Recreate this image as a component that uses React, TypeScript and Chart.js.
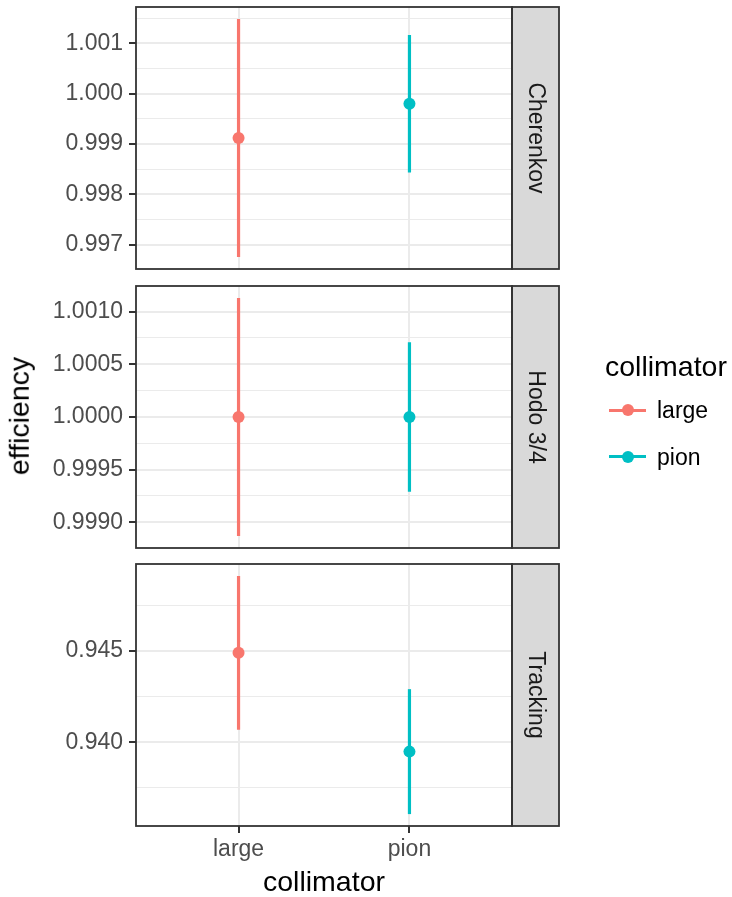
import React, { useEffect, useRef } from 'react';
import { Chart, registerables } from 'chart.js';

Chart.register(...registerables);

// ---- data ----
const categories = ['large', 'pion'];
const seriesColors = ['#F8766D', '#00BFC4'];
const facets = ['Cherenkov', 'Hodo 3/4', 'Tracking'];

const cherenkovEff = [0.99912, 0.9998];
const cherenkovErr = [0.002365, 0.001366];
const hodoEff = [1.0, 1.0];
const hodoErr = [0.00113, 0.00071];
const trackingEff = [0.9449, 0.93949];
const trackingErr = [0.00421, 0.00342];

const cherenkovTicks = ['0.997', '0.998', '0.999', '1.000', '1.001'];
const hodoTicks = ['0.9990', '0.9995', '1.0000', '1.0005', '1.0010'];
const trackingTicks = ['0.940', '0.945'];

const xTitle = 'collimator';
const yTitle = 'efficiency';
const legendTitle = 'collimator';

// ---- layout ----
const W = 732;
const H = 897;
const PLOT_LEFT = 136;
const PLOT_RIGHT = 512;
const STRIP_RIGHT = 559;
const X_AXIS_H = 50;
const panelBoxes = [
  { top: 7, bottom: 269 },
  { top: 286, bottom: 548 },
  { top: 564, bottom: 826 },
];
const FONT = '"Liberation Sans", Arial, Helvetica, sans-serif';
const tickFont = { family: FONT, size: 23 };

type PanelProps = {
  index: number;
  eff: number[];
  err: number[];
  tickLabels: string[];
  showX: boolean;
};

function Panel({ index, eff, err, tickLabels, showX }: PanelProps) {
  const ref = useRef<HTMLCanvasElement>(null);
  useEffect(() => {
    if (!ref.current) return;
    const box = panelBoxes[index];
    const lows = eff.map((v, i) => v - err[i]);
    const highs = eff.map((v, i) => v + err[i]);
    const lo = Math.min(...lows);
    const hi = Math.max(...highs);
    const pad = (hi - lo) * 0.05;
    const yMin = lo - pad;
    const yMax = hi + pad;
    const majors = tickLabels.map((t) => parseFloat(t));
    const step = majors[1] - majors[0];
    const minors: number[] = [];
    for (let k = -1; k < majors.length; k++) {
      const m = majors[0] + (k + 0.5) * step;
      if (m > yMin && m < yMax) minors.push(m);
    }
    const all = [
      ...majors.map((v, i) => ({ value: v, label: tickLabels[i], major: true })),
      ...minors.map((v) => ({ value: v, label: '', major: false })),
    ].sort((a, b) => a.value - b.value);

    const label = facets[index];
    const framePlugin = {
      id: 'panelFrame' + index,
      afterDraw(chart: any) {
        const { ctx, chartArea: a } = chart;
        ctx.save();
        ctx.fillStyle = '#D9D9D9';
        ctx.fillRect(a.right, a.top, STRIP_RIGHT - a.right, a.bottom - a.top);
        ctx.strokeStyle = '#333333';
        ctx.lineWidth = 1.8;
        ctx.strokeRect(a.right, a.top, STRIP_RIGHT - a.right, a.bottom - a.top);
        ctx.strokeRect(a.left, a.top, a.right - a.left, a.bottom - a.top);
        ctx.translate((a.right + STRIP_RIGHT) / 2, (a.top + a.bottom) / 2);
        ctx.rotate(Math.PI / 2);
        ctx.fillStyle = '#1A1A1A';
        ctx.font = `23px ${FONT}`;
        ctx.textAlign = 'center';
        ctx.textBaseline = 'middle';
        ctx.fillText(label, 0, 0);
        ctx.restore();
      },
    };

    const chart = new Chart(ref.current, {
      type: 'bar',
      data: {
        datasets: [
          {
            type: 'scatter',
            data: eff.map((v, i) => ({ x: i + 1, y: v })),
            pointRadius: 6,
            pointHoverRadius: 6,
            pointBackgroundColor: seriesColors,
            pointBorderWidth: 0,
            order: 1,
          } as any,
          {
            type: 'bar',
            data: eff.map((v, i) => ({ x: i + 1, y: [lows[i], highs[i]] })),
            backgroundColor: seriesColors,
            borderWidth: 0,
            barThickness: 3.2,
            grouped: false,
            inflateAmount: 0,
            order: 2,
          } as any,
        ],
      },
      options: {
        animation: false,
        responsive: false,
        events: [],
        layout: {
          padding: {
            left: 0,
            right: W - PLOT_RIGHT,
            top: box.top,
            bottom: H - box.bottom - (showX ? X_AXIS_H : 0),
          },
        },
        plugins: { legend: { display: false }, tooltip: { enabled: false } },
        scales: {
          x: {
            type: 'linear',
            min: 0.4,
            max: 2.6,
            offset: false,
            afterBuildTicks: (s: any) => {
              s.ticks = categories.map((_, i) => ({ value: i + 1 }));
            },
            afterFit: (s: any) => {
              s.height = showX ? X_AXIS_H : 0;
              s.paddingLeft = 0;
              s.paddingRight = 0;
            },
            grid: {
              color: '#EBEBEB',
              lineWidth: 2,
              drawTicks: showX,
              tickLength: 7,
              tickColor: '#333333',
              tickWidth: 2,
              offset: false,
            },
            border: { display: false },
            ticks: {
              display: showX,
              autoSkip: false,
              maxRotation: 0,
              padding: 3,
              color: '#4D4D4D',
              font: tickFont,
              callback: (v: any) => categories[Math.round(Number(v)) - 1] ?? '',
            },
          } as any,
          y: {
            type: 'linear',
            min: yMin,
            max: yMax,
            beginAtZero: false,
            afterBuildTicks: (s: any) => {
              s.ticks = all.map((t) => ({ value: t.value }));
            },
            afterFit: (s: any) => {
              s.width = PLOT_LEFT;
              s.paddingTop = 0;
              s.paddingBottom = 0;
            },
            grid: {
              color: '#EBEBEB',
              lineWidth: (c: any) => (all[c.index] && all[c.index].major ? 2 : 1.1),
              tickLength: 7,
              tickColor: (c: any) => (all[c.index] && all[c.index].major ? '#333333' : 'rgba(0,0,0,0)'),
              tickWidth: 2,
            },
            border: { display: false },
            ticks: {
              autoSkip: false,
              padding: 6,
              color: '#4D4D4D',
              font: tickFont,
              callback: (_v: any, i: number) => (all[i] ? all[i].label : ''),
            },
          } as any,
        },
      },
      plugins: [framePlugin],
    });
    return () => chart.destroy();
  }, [index, eff, err, tickLabels, showX]);

  return (
    <canvas
      ref={ref}
      width={W}
      height={H}
      style={{ position: 'absolute', left: 0, top: 0, width: W, height: H }}
    />
  );
}

export default function App() {
  const legendRows = [410, 456.7];
  return (
    <div
      style={{
        position: 'absolute',
        left: 0,
        top: 0,
        width: W,
        height: H,
        background: '#FFFFFF',
        fontFamily: FONT,
        overflow: 'hidden',
      }}
    >
      <Panel index={0} eff={cherenkovEff} err={cherenkovErr} tickLabels={cherenkovTicks} showX={false} />
      <Panel index={1} eff={hodoEff} err={hodoErr} tickLabels={hodoTicks} showX={false} />
      <Panel index={2} eff={trackingEff} err={trackingErr} tickLabels={trackingTicks} showX={true} />

      {/* x title */}
      <div
        style={{
          position: 'absolute',
          left: (PLOT_LEFT + PLOT_RIGHT) / 2,
          top: 867,
          transform: 'translateX(-50%)',
          fontSize: 28.5,
          lineHeight: '28.5px',
          color: '#000000',
          whiteSpace: 'nowrap',
        }}
      >
        {xTitle}
      </div>

      {/* y title */}
      <div
        style={{
          position: 'absolute',
          left: 19,
          top: 416,
          transform: 'translate(-50%, -50%) rotate(-90deg)',
          fontSize: 28.5,
          lineHeight: '28.5px',
          color: '#000000',
          whiteSpace: 'nowrap',
        }}
      >
        {yTitle}
      </div>

      {/* legend */}
      <div
        style={{
          position: 'absolute',
          left: 605,
          top: 352,
          fontSize: 28.5,
          lineHeight: '28.5px',
          color: '#000000',
          whiteSpace: 'nowrap',
        }}
      >
        {legendTitle}
      </div>
      {categories.map((c, i) => (
        <React.Fragment key={c}>
          <div
            style={{
              position: 'absolute',
              left: 609,
              top: legendRows[i] - 1.5,
              width: 37,
              height: 3,
              background: seriesColors[i],
            }}
          />
          <div
            style={{
              position: 'absolute',
              left: 627.7 - 6,
              top: legendRows[i] - 6,
              width: 12,
              height: 12,
              borderRadius: '50%',
              background: seriesColors[i],
            }}
          />
          <div
            style={{
              position: 'absolute',
              left: 657,
              top: legendRows[i] - 11,
              fontSize: 23,
              lineHeight: '23px',
              color: '#000000',
              whiteSpace: 'nowrap',
            }}
          >
            {c}
          </div>
        </React.Fragment>
      ))}
    </div>
  );
}
